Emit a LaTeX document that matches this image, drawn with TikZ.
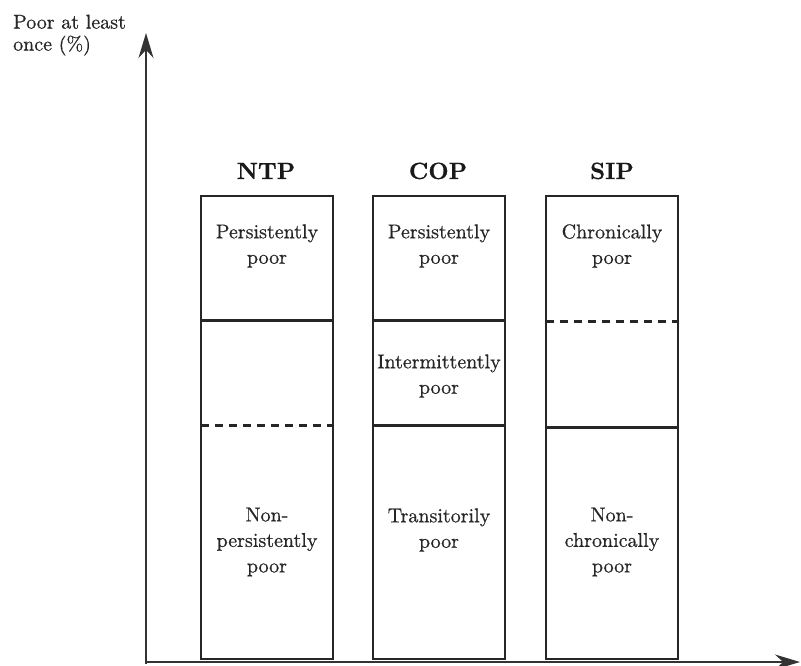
\documentclass[tikz,border=0pt]{standalone}
\usepackage{fontspec}
\newfontfamily\lblfont{lmroman10-regular.otf}[FakeBold=0.6]
\newfontfamily\headfont{lmroman10-bold.otf}[FakeBold=0.5]
\usetikzlibrary{arrows.meta}
\begin{document}
\begin{tikzpicture}[x=1pt,y=-1pt,
  boxline/.style={line width=1.2pt, draw=black!85},
  divider/.style={line width=3pt, draw=black!85},
  dashdiv/.style={line width=3pt, draw=black!85, dash pattern=on 8pt off 6pt},
  axis/.style={line width=1.6pt, draw=black!80, -{Stealth[length=25pt,width=15pt]}},
  lbl/.style={inner sep=0pt, align=center, text=black!85, font=\lblfont\fontsize{20}{25.5}\selectfont},
  head/.style={inner sep=0pt, anchor=base, text=black!90, font=\headfont\fontsize{23.5}{28}\selectfont}]
\useasboundingbox (0,0) rectangle (801,665);
% axes
\coordinate (O) at (146,662);
\coordinate (ytip) at (146,33);
\coordinate (xtip) at (800,662);
\draw[axis] (146,663.5) -- (ytip);
\draw[axis] (145.5,662) -- (xtip);
\node[inner sep=0pt, anchor=north west, align=left, text=black!85,
      font=\lblfont\fontsize{20}{22}\selectfont] (ylabel) at (13,14.5) {Poor at least\\once (\%)};
% boxes
\draw[boxline] (201,196) rectangle (333,659);
\draw[boxline] (373,196) rectangle (505,659);
\draw[boxline] (546,196) rectangle (678,659);
% dividers
\draw[divider] (201,320) -- (334,320);
\draw[dashdiv] (201,425) -- (333,425);
\draw[divider] (373,320) -- (505,320);
\draw[divider] (373,425) -- (505,425);
\draw[dashdiv] (546,321) -- (678,321);
\draw[divider] (546,427) -- (678,427);
% headings
\node[head] (ntp) at (266,179) {NTP};
\node[head] (cop) at (438,179) {COP};
\node[head] (sip) at (612,179) {SIP};
% labels
\node[lbl] (n1) at (267,246) {Persistently\\poor};
\node[lbl] (n2) at (267,542) {Non-\\persistently\\poor};
\node[lbl] (c1) at (439,246) {Persistently\\poor};
\node[lbl] (c2) at (439,376) {Intermittently\\poor};
\node[lbl] (c3) at (439,530) {Transitorily\\poor};
\node[lbl] (s1) at (612,246) {Chronically\\poor};
\node[lbl] (s2) at (612,542) {Non-\\chronically\\poor};
\end{tikzpicture}
\end{document}
